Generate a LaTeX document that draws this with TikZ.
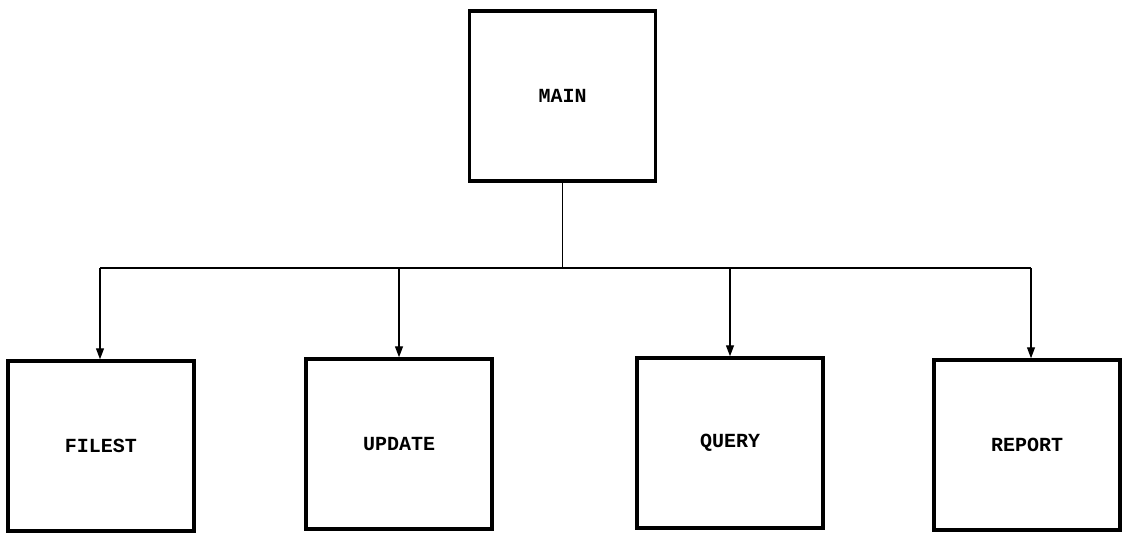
\documentclass[tikz,border=0pt]{standalone}
\usepackage{fontspec}
\setmonofont{Liberation Mono}
\usetikzlibrary{arrows.meta}
\begin{document}
\begin{tikzpicture}[x=1pt,y=-1pt,
  modbox/.style={draw=black,line width=3.5pt,minimum width=186pt,minimum height=170pt,inner sep=0pt,
    font=\ttfamily\bfseries\fontsize{20}{20}\selectfont},
  link/.style={draw=black,line width=1.3pt},
  arr/.style={link,-{Triangle[length=11pt,width=8pt]}}]
\useasboundingbox (0,0) rectangle (1123,535);
\node[modbox] (main) at (562.5,96) {MAIN};
\node[modbox] (filest) at (101,446) {FILEST};
\node[modbox] (update) at (399,444) {UPDATE};
\node[modbox] (query) at (730,443) {QUERY};
\node[modbox] (report) at (1027,445) {REPORT};
\coordinate (busL) at (100,268);
\coordinate (busR) at (1031,268);
\draw[link] (main.south) -- (main.south |- busL);
\draw[link] (busL) -- (busR);
\draw[arr] (busL) -- (busL |- filest.north);
\draw[arr] (update.north |- busL) -- (update.north);
\draw[arr] (query.north |- busL) -- (query.north);
\draw[arr] (busR) -- (busR |- report.north);
\end{tikzpicture}
\end{document}
